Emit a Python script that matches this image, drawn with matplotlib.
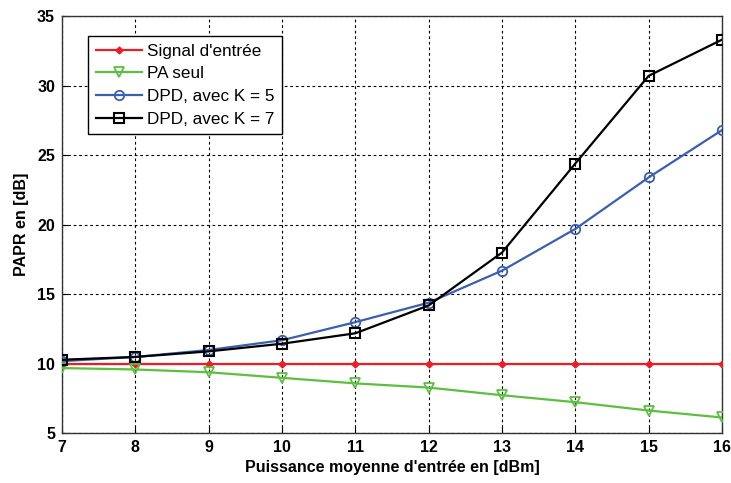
import matplotlib
matplotlib.use("Agg")
import matplotlib.pyplot as plt

x = [7, 8, 9, 10, 11, 12, 13, 14, 15, 16]
signal_entree = [10, 10, 10, 10, 10, 10, 10, 10, 10, 10]
pa_seul = [9.7, 9.6, 9.4, 9.0, 8.6, 8.3, 7.75, 7.25, 6.65, 6.15]
dpd_k5 = [10.2, 10.5, 11.0, 11.7, 13.0, 14.4, 16.7, 19.7, 23.4, 26.8]
dpd_k7 = [10.3, 10.5, 10.9, 11.45, 12.2, 14.2, 18.0, 24.4, 30.7, 33.3]
labels = ["Signal d'entrée", "PA seul", "DPD, avec K = 5", "DPD, avec K = 7"]
xticks = [7, 8, 9, 10, 11, 12, 13, 14, 15, 16]
yticks = [5, 10, 15, 20, 25, 30, 35]

plt.rcParams['font.family'] = ['Liberation Sans', 'DejaVu Sans']

fig = plt.figure(figsize=(7.31, 4.83), dpi=100)
ax = fig.add_axes([0.0848, 0.1025, 0.9029, 0.8644])

ax.plot(x, signal_entree, color='#ee1c24', lw=1.6, marker='D', ms=3.5, label=labels[0], zorder=3)
ax.plot(x, pa_seul, color='#5cbf3f', lw=1.6, marker='v', ms=7.5, mfc='none', mew=1.3, label=labels[1], zorder=3)
ax.plot(x, dpd_k5, color='#3a5fb0', lw=1.6, marker='o', ms=6.8, mfc='none', mew=1.3, label=labels[2], zorder=4)
ax.plot(x, dpd_k7, color='black', lw=1.6, marker='s', ms=7.2, mfc='none', mew=1.5, label=labels[3], zorder=5)

ax.set_xlim(7, 16)
ax.set_ylim(5, 35)
ax.set_xticks(xticks)
ax.set_yticks(yticks)
ax.grid(True, color='black', linestyle=(0, (2.5, 2.5)), linewidth=0.8)
for s in ax.spines.values():
    s.set_linewidth(1.0)
    s.set_color('#333333')
ax.tick_params(direction='in', length=4, labelsize=11.5, pad=5)
for t in ax.get_xticklabels() + ax.get_yticklabels():
    t.set_fontweight('bold')

ax.set_xlabel("Puissance moyenne d'entrée en [dBm]", fontsize=11.5, fontweight='bold', labelpad=3)
ax.set_ylabel("PAPR en [dB]", fontsize=11.5, fontweight='bold', labelpad=6)

leg = ax.legend(loc='upper left', bbox_to_anchor=(0.0394, 0.952), borderaxespad=0, fontsize=12.3,
                frameon=True, fancybox=False, edgecolor='black', framealpha=1,
                handlelength=2.7, labelspacing=0.45, borderpad=0.45, handletextpad=0.3)
leg.get_frame().set_linewidth(1.0)

fig.savefig("out.png", dpi=100)
